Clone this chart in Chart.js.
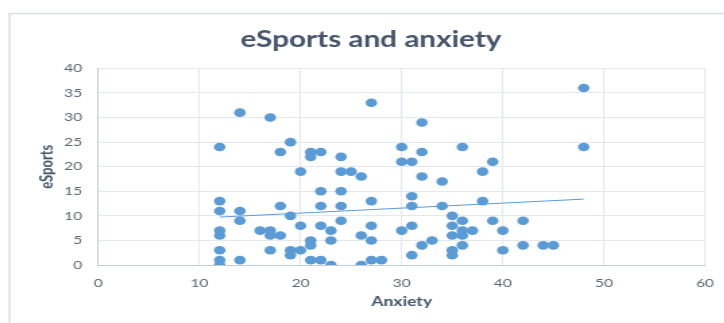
<!DOCTYPE html>
<html>
<head>
<meta charset="utf-8">
<script src="https://cdn.jsdelivr.net/npm/chart.js@4.4.1/dist/chart.umd.min.js"></script>
<style>
  html, body { margin: 0; padding: 0; background: #ffffff; overflow: hidden; }
  #wrap { position: relative; width: 724px; height: 323px; overflow: hidden; }
  /* the chart is laid out narrow and widened horizontally */
  #c { position: absolute; left: 0; top: 0; transform-origin: 0 0; transform: scale(1.34909, 1); }
</style>
</head>
<body>
<div id="wrap"><canvas id="c" width="550" height="323"></canvas></div>
<script>
// Survey responses: anxiety score vs. eSports score, one entry per respondent
const anxiety = [14,17,12,19,18,20,12,12,14,18,14,19,12,12,16,17,17,18,20,12,17,19,19,20,12,12,14,
  21,21,22,24,27,24,25,26,22,24,22,24,27,22,24,23,27,26,21,21,23,27,21,22,23,26,27,28,
  30,32,32,30,31,32,34,31,31,34,30,31,32,33,31,
  36,38,39,38,35,36,35,39,36,37,35,36,36,35,35,40,40,
  48,48,42,42,44,45];
const esports = [31,30,24,25,23,19,13,11,11,12,9,10,7,6,7,7,6,6,8,3,3,3,2,3,1,0,1,
  23,22,23,22,33,19,19,18,15,15,12,12,13,8,9,7,8,6,5,4,5,5,1,1,0,0,1,1,
  24,29,23,21,21,18,17,14,12,12,7,8,4,5,2,
  24,19,21,13,10,9,8,9,7,7,6,6,4,3,2,7,3,
  36,24,9,4,4,4];

// Linear trendline end points (anxiety, eSports)
const trendAnxiety = [12, 48];
const trendEsports = [9.75, 13.4];

const xTicks = [0, 10, 20, 30, 40, 50, 60];
const yTicks = [0, 5, 10, 15, 20, 25, 30, 35, 40];

const points = anxiety.map((a, i) => ({ x: a, y: esports[i] }));
const trend = trendAnxiety.map((a, i) => ({ x: a, y: trendEsports[i] }));

const BLUE = '#5B9BD5';
const GRID = '#E4E7EC';
const AXIS = '#C5CCD8';
const TICK = '#5D6470';
const TITLE = '#44546A';
const FONT = 'Lato, "Open Sans", sans-serif';

// Light outer frame around the whole chart object
const framePlugin = {
  id: 'frame',
  beforeDraw(chart) {
    const ctx = chart.ctx;
    ctx.save();
    ctx.strokeStyle = '#DADEE5';
    ctx.lineWidth = 1.5;
    ctx.strokeRect(7, 13.5, 540, 340);
    ctx.restore();
  }
};

new Chart(document.getElementById('c'), {
  type: 'scatter',
  data: {
    datasets: [
      {
        label: 'eSports',
        data: points,
        backgroundColor: BLUE,
        borderColor: BLUE,
        borderWidth: 0,
        pointRadius: 4.3,
        pointHoverRadius: 4.3,
        order: 2
      },
      {
        type: 'line',
        label: 'Linear trend',
        data: trend,
        borderColor: BLUE,
        borderWidth: 1,
        pointRadius: 0,
        fill: false,
        order: 1
      }
    ]
  },
  options: {
    responsive: false,
    animation: false,
    events: [],
    layout: { padding: { left: 0, right: 0, top: 0, bottom: 12 } },
    plugins: {
      legend: { display: false },
      tooltip: { enabled: false },
      title: {
        display: true,
        text: 'eSports and anxiety',
        color: TITLE,
        font: { family: FONT, size: 22, weight: 'bold' },
        padding: { top: 27, bottom: 15 }
      }
    },
    scales: {
      x: {
        type: 'linear',
        min: 0,
        max: 60,
        afterBuildTicks(scale) { scale.ticks = xTicks.map(v => ({ value: v })); },
        afterFit(scale) { scale.height = 46; },
        grid: { color: GRID, lineWidth: 1, drawTicks: false },
        border: { color: AXIS, width: 1 },
        ticks: { color: TICK, font: { family: FONT, size: 11.5 }, padding: 11 },
        title: {
          display: true,
          text: 'Anxiety',
          color: TITLE,
          font: { family: FONT, size: 13, weight: 'bold' },
          padding: { top: 2, bottom: 1 }
        }
      },
      y: {
        type: 'linear',
        min: 0,
        max: 40,
        afterBuildTicks(scale) { scale.ticks = yTicks.map(v => ({ value: v })); },
        afterFit(scale) { scale.width = 72.9; },
        grid: { color: GRID, lineWidth: 1, drawTicks: false },
        border: { color: AXIS, width: 1 },
        ticks: { color: TICK, font: { family: FONT, size: 11.5 }, padding: 12 },
        title: {
          display: true,
          text: 'eSports',
          color: TITLE,
          font: { family: FONT, size: 13, weight: 'bold' },
          padding: { top: 27, bottom: 0 }
        }
      },
      // empty right-hand margin beside the plot area
      yRight: {
        type: 'linear',
        position: 'right',
        min: 0,
        max: 40,
        afterFit(scale) { scale.width = 27.4; },
        grid: { display: false, drawOnChartArea: false },
        border: { display: false },
        ticks: { display: false }
      }
    }
  },
  plugins: [framePlugin]
});
</script>
</body>
</html>
